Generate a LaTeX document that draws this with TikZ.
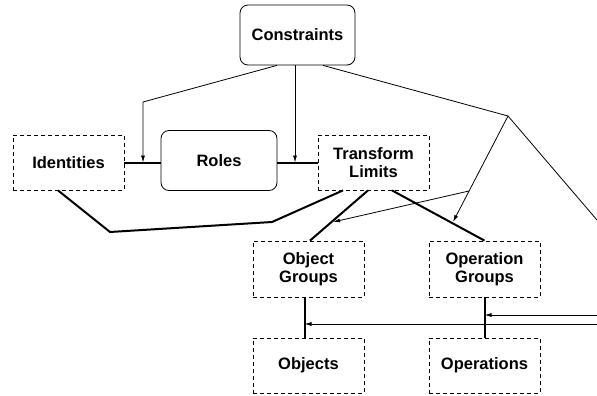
\documentclass[tikz,border=0pt]{standalone}
\usepackage{fontspec}
\setmainfont{Liberation Sans}
\usetikzlibrary{arrows.meta}

\tikzset{
	entity/.style = {draw, line width=0.8pt, dash pattern=on 4pt off 3pt, align=center,
		minimum width=111pt, minimum height=55pt, inner sep=0pt,
		font=\fontsize{16.5}{18}\selectfont\bfseries},
	concept/.style = {entity, solid, rounded corners=8pt, minimum width=115pt, minimum height=60pt},
	link/.style = {line width=2pt},
	hint/.style = {line width=0.8pt},
	hintarrow/.style = {hint, -{Latex[length=7pt,width=4pt]}}
}

\begin{document}
\begin{tikzpicture}[x=1pt, y=-1pt]
		\useasboundingbox (0,0) rectangle (597,396);
		\clip (0,0) rectangle (597,396);

		\node[concept] (Constraints) at (297.5,35) {Constraints};
		\node[entity] (Identities) at (68.5,162.5) {Identities};
		\node[concept, minimum width=116pt] (Roles) at (219,160.5) {Roles};
		\node[entity] (TransformLimits) at (373.5,162.5) {Transform\\Limits};
		\node[entity, minimum height=56pt] (ObjectGroups) at (308.5,269) {Object\\Groups};
		\node[entity, minimum height=56pt] (OperationGroups) at (484.5,269) {Operation\\Groups};
		\node[entity] (Objects) at (308.5,365.5) {Objects};
		\node[entity] (Operations) at (484.5,365.5) {Operations};

		\coordinate (bendLeft) at (143,102);
		\coordinate (fork) at (508,116);
		\coordinate (split) at (469,191);
		\coordinate (hitObjectGroups) at (333,222);
		\coordinate (hitOperationGroups) at (453,222);
		\coordinate (offRight) at (650,282);
		\coordinate (backUpper) at (650,315);
		\coordinate (backLower) at (650,324);
		\coordinate (dipRight) at (272,222);
		\coordinate (dipLeft) at (110,232);
		\coordinate (objectsTop) at ([xshift=-4pt]ObjectGroups.south);

		\draw[link] (Identities.east) -- (Identities.east -| Roles.west);
		\draw[link] (Roles.east |- TransformLimits.west) -- (TransformLimits.west);
		\draw[link] ([xshift=-30.5pt]TransformLimits.south) -- (dipRight) -- (dipLeft) -- ([xshift=-10.5pt]Identities.south);
		\draw[link] ([xshift=-5.5pt]TransformLimits.south) -- ([xshift=1.5pt]ObjectGroups.north);
		\draw[link] ([xshift=18.5pt]TransformLimits.south) -- (OperationGroups.north);
		\draw[link] (objectsTop) -- (objectsTop |- Objects.north);
		\draw[link] (OperationGroups.south) -- (Operations.north);

		\draw[hintarrow] ([xshift=-20.5pt]Constraints.south) -- (bendLeft) -- (bendLeft |- Identities.east);
		\draw[hintarrow] ([xshift=-2.5pt]Constraints.south) -- ([xshift=-2.5pt]Constraints.south |- TransformLimits.west);
		\draw[hint] ([xshift=25.5pt]Constraints.south) -- (fork) -- (offRight) -- (backLower);
		\draw[hintarrow] (fork) -- (hitOperationGroups);
		\draw[hintarrow] (split) -- (hitObjectGroups);
		\draw[hintarrow] (backUpper) -- (backUpper -| OperationGroups.south);
		\draw[hintarrow] (backLower) -- (backLower -| objectsTop);

	\end{tikzpicture}
\end{document}
